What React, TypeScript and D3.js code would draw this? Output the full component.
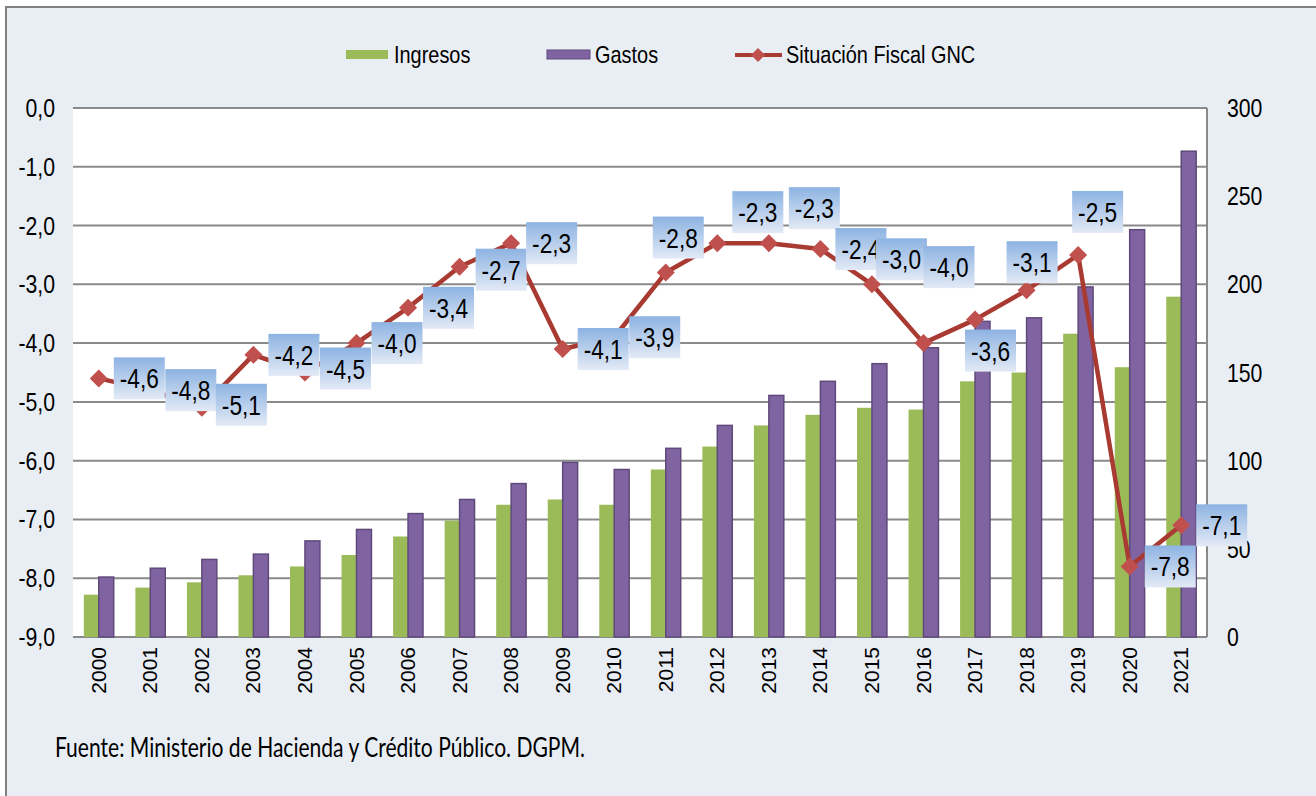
import React from "react";
import * as d3 from "d3";

// data
const years = ["2000","2001","2002","2003","2004","2005","2006","2007","2008","2009","2010","2011","2012","2013","2014","2015","2016","2017","2018","2019","2020","2021"];
const ingresos = [24, 28, 31, 35, 40, 46.5, 57, 66, 75, 78, 75, 95, 108, 120, 126, 130, 129, 145, 150, 172, 153, 193];
const gastos = [34, 39, 44, 47, 54.5, 61, 70, 78, 87, 99, 95, 107, 120, 137, 145, 155, 164, 179, 181, 198.5, 231, 275.5];
const situacion = [-4.6, -4.8, -5.1, -4.2, -4.5, -4.0, -3.4, -2.7, -2.3, -4.1, -3.9, -2.8, -2.3, -2.3, -2.4, -3.0, -4.0, -3.6, -3.1, -2.5, -7.8, -7.1];
const leftTicks = [0, -1, -2, -3, -4, -5, -6, -7, -8, -9];
const rightTicks = [0, 50, 100, 150, 200, 250, 300];

// where the data label box sits relative to its point (box left, box centre)
const labelShift: Record<string, [number, number]> = {
  "2002": [14, -3], "2004": [15, -4], "2007": [16, 3],
  "2011": [-13, -35], "2012": [15, -31], "2013": [20, -35],
  "2015": [4, -25], "2016": [0, -76], "2017": [-10, 31],
  "2018": [-20, -28], "2019": [-6, -43],
};

const W = 1316, H = 796;
const plot = { left: 73, right: 1207, top: 108, bottom: 637 };
const sans = "'Liberation Sans', Arial, sans-serif";
const fmt = (v: number) => v.toFixed(1).replace(".", ",");

// the reference text is horizontally condensed (Arial Narrow look)
function T({ x, y, anchor = "start", size = 24, sx = 0.83, children }: { x: number; y: number; anchor?: string; size?: number; sx?: number; children: React.ReactNode }) {
  return (
    <text transform={`translate(${x},${y}) scale(${sx},1)`} textAnchor={anchor} fontFamily={sans} fontSize={size} fill="#000">
      {children}
    </text>
  );
}

export default function App() {
  const x = d3.scaleBand<string>().domain(years).range([plot.left, plot.right]);
  const yL = d3.scaleLinear().domain([-9, 0]).range([plot.bottom, plot.top]);
  const yR = d3.scaleLinear().domain([0, 300]).range([plot.bottom, plot.top]);
  const bw = x.bandwidth() * 0.29;
  const cx = (y: string) => (x(y) as number) + x.bandwidth() / 2;

  const line = d3.line<number>()
    .x((_, i) => cx(years[i]))
    .y(d => yL(d));

  const diamond = (px: number, py: number, r: number) =>
    `M${px},${py - r}L${px + r},${py}L${px},${py + r}L${px - r},${py}Z`;

  return (
    <svg width={W} height={H} style={{ position: "absolute", left: 0, top: 0 }}>
      <defs>
        <linearGradient id="lbl" x1="0" y1="0" x2="0" y2="1">
          <stop offset="0" stopColor="#8DB3E2" />
          <stop offset="1" stopColor="#E3EAF6" />
        </linearGradient>
      </defs>
      <rect width={W} height={H} fill="#fff" />
      <rect x={6} y={7} width={W + 20} height={H + 20} fill="#E9EEF5" stroke="#808080" strokeWidth={2} />

      {/* legend */}
      <rect x={346} y={50} width={42} height={9} fill="#9BBB59" />
      <T x={394} y={63}>Ingresos</T>
      <rect x={547} y={50} width={43} height={9} fill="#8064A2" stroke="#5F497A" strokeWidth={1} />
      <T x={595} y={63}>Gastos</T>
      <line x1={735} x2={782} y1={55} y2={55} stroke="#A83A32" strokeWidth={4} />
      <path d={diamond(758, 55, 7)} fill="#C0504D" />
      <T x={786} y={63}>Situación Fiscal GNC</T>

      <rect x={plot.left} y={plot.top} width={plot.right - plot.left} height={plot.bottom - plot.top} fill="#fff" />
      {leftTicks.map(t => (
        <line key={t} x1={plot.left} x2={plot.right} y1={yL(t)} y2={yL(t)} stroke="#8A8A8A" strokeWidth={2} />
      ))}
      <line x1={plot.right} x2={plot.right} y1={plot.top} y2={plot.bottom} stroke="#8A8A8A" strokeWidth={2} />

      {/* left axis */}
      {leftTicks.map(t => (
        <T key={t} x={55} y={yL(t) + 9} anchor="end" size={25} sx={0.85}>{fmt(t)}</T>
      ))}
      {/* right axis */}
      {rightTicks.map(t => (
        <T key={t} x={1227} y={yR(t) + 9} size={25} sx={0.85}>{t}</T>
      ))}

      {/* bars */}
      {years.map((yr, i) => (
        <g key={yr}>
          <rect x={cx(yr) - bw} y={yR(ingresos[i])} width={bw} height={plot.bottom - yR(ingresos[i])} fill="#9BBB59" />
          <rect x={cx(yr)} y={yR(gastos[i])} width={bw} height={plot.bottom - yR(gastos[i])} fill="#8064A2" stroke="#5F497A" strokeWidth={1.5} />
        </g>
      ))}

      {/* year labels */}
      <g fontFamily={sans} fontSize={21}>
        {years.map(yr => (
          <text key={yr} transform={`translate(${cx(yr) + 7},647) rotate(-90)`} textAnchor="end">{yr}</text>
        ))}
      </g>

      {/* fiscal line */}
      <path d={line(situacion) ?? ""} fill="none" stroke="#A83A32" strokeWidth={4.5} strokeLinejoin="round" />
      {situacion.map((v, i) => (
        <path key={i} d={diamond(cx(years[i]), yL(v), 9)} fill="#C0504D" />
      ))}

      {/* data labels */}
      {situacion.map((v, i) => {
        const [dx, dy] = labelShift[years[i]] ?? [15, 0];
        const bx = cx(years[i]) + dx;
        const by = yL(v) + dy - 21;
        return (
          <g key={i}>
            <rect x={bx} y={by} width={51} height={42} fill="url(#lbl)" />
            <T x={bx + 25.5} y={by + 31} anchor="middle" size={27} sx={0.84}>{fmt(v)}</T>
          </g>
        );
      })}

      <text x={55} y={757} fontFamily="Lato, 'Open Sans', sans-serif" fontSize={26} textLength={530} lengthAdjust="spacingAndGlyphs">
        Fuente: Ministerio de Hacienda y Crédito Público. DGPM.
      </text>
    </svg>
  );
}
